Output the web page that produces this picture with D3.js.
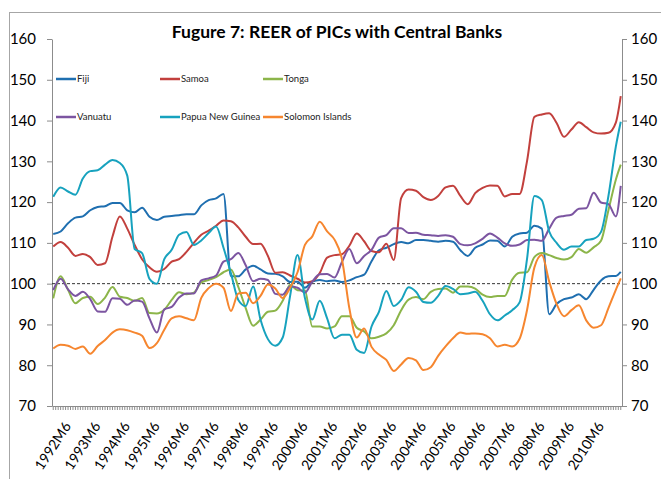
<!DOCTYPE html>
<html>
<head>
<meta charset="utf-8">
<script src="https://cdn.jsdelivr.net/npm/d3@7"></script>
<style>
  body { margin: 0; background: #fff; }
  svg { font-family: Lato, "Open Sans", sans-serif; }
</style>
</head>
<body>
<svg class="chart" width="661" height="479"></svg>
<script>

// Monthly categories, 1992M1 to 2011M3.
var months = [];
for (var yr = 1992; yr <= 2011; yr++) {
  for (var mo = 1; mo <= 12; mo++) {
    months.push(yr + "M" + mo);
  }
}
months = months.slice(0, 231);

var sampleMonths = months.filter(function(d, i) { return i % 3 == 0; });
sampleMonths.push(months[months.length - 1]);

var tickLabels = ["1992M6", "1993M6", "1994M6", "1995M6", "1996M6", "1997M6",
                  "1998M6", "1999M6", "2000M6", "2001M6", "2002M6", "2003M6",
                  "2004M6", "2005M6", "2006M6", "2007M6", "2008M6", "2009M6", "2010M6"];

var yTicks = [70, 80, 90, 100, 110, 120, 130, 140, 150, 160];

var fiji = [112.2,112.8,114.8,116.2,116.5,118,118.8,119,119.8,119.8,118,117.5,118.6,116.4,115.6,116.4,116.6,116.8,117,117,
            119.2,120.5,120.9,122,101.8,101.8,103.5,104.4,103.5,102.5,102.4,101.8,100.4,100.5,99,100.5,100.9,100.6,100.8,100.4,
            100.8,101.6,102.2,105.5,108.2,108.8,109.7,110.2,109.9,110.7,110.7,110.5,110.3,110.5,110.3,108.2,106.8,108.8,109.6,110.6,
            110.5,109.1,111.5,112.3,112.5,114.2,113.5,92.5,95,96.2,96.6,97.4,96.2,98.5,100.8,101.8,101.9,102.9];

var samoa = [109.1,110.2,108.8,106.8,107.3,106.5,104.6,105,111.5,116.5,113.5,109.5,106,104,102.9,103.6,105.4,106,107.8,110,
             112,113,114.2,115.5,115.3,113.8,111.5,109.7,109.8,106.8,102.7,102.8,102,101.2,100.3,100.6,102.6,106.4,107,107.2,
             109.3,112.3,110.4,108,107.7,109.8,105.8,121,123.1,122.8,121.2,120.5,121.5,123.6,124,121.5,119.5,122.2,123.5,124.1,
             124,121.4,122,122,130,140.9,141.5,141.8,139.4,136,137.8,139.6,138.4,137.1,136.8,137,139.5,146];

var tonga = [96.4,101.8,98.5,95.2,96.5,96.8,95,96.6,99.2,96.8,96.5,95.8,96.5,92.8,92.7,93.6,96,97.9,97.4,97.8,
             100.3,100.9,101.6,102.8,103.5,99.2,94,89.7,91.2,93.1,93.4,95.8,99.7,98.4,98.3,89.5,89.5,89,89.5,92,
             92,89.2,88.3,86.6,87,87.8,89.8,93.5,96.1,96.7,96.2,98,98.7,98.8,97.8,99.3,99.3,98.8,97.3,96.7,
             97,97,101,102.7,102.8,106.5,107.5,107,106.3,105.9,106.5,108.5,107.6,108.9,110.5,118,125.5,129.2];

var vanuatu = [98.4,101.2,98.6,97,98,96.2,93.2,93.1,96.4,96.3,94.8,95.9,95.6,91.5,88,93.7,94.3,96.6,97.6,97.6,
               100.8,101.3,102,105.4,106,107.5,104.5,100.6,101.2,100.9,97.5,97.3,99.3,99,97.8,100.5,102.3,102.4,101.5,105.3,
               108.5,105,106.8,108.3,111.3,111.9,113.6,113.6,112.4,112.5,112,111.9,111.7,111.9,111.5,109.7,109.4,109.9,111,112.3,
               111.3,109.9,109.3,109.6,110.7,110.8,110.5,113.5,116.2,116.6,116.9,118.4,118.5,122.3,119.9,119.5,116.5,124];

var png = [121.3,123.6,122.6,121.8,125.8,127.6,127.8,129.2,130.3,129.6,126.5,108.5,107.5,101.2,100,106,108.3,112,112.7,109.5,
           110.6,112.4,114,108.8,102.6,96,94.5,99.3,91.2,86.4,84.8,86.8,97,107,96.5,91.2,95.8,91.5,86.6,87.5,
           87.5,83.8,83,89.5,93.1,98.2,94.5,96,99.1,98,95.5,95.3,97,99.4,98.7,97.4,97.6,98,95.8,92.5,
           91,92.2,93.5,95.4,106,121.5,120.5,112.8,110,108.3,109.1,109.1,110.7,111,112.7,121.5,133.6,139.7];

var solomon = [84.1,85,84.8,84,84.6,82.8,84.7,86.2,88,88.8,88.6,88,87.2,84.2,85.4,88.7,91.5,92,91.5,91,
               96.5,98.9,100,99,93.3,97.6,97.8,95.2,97,99.8,98.8,96.5,99,102.8,109.5,111.6,115.2,112.8,110.8,106,
               94,86.8,89,84.5,82.6,81.3,78.6,80.2,81.8,81.2,78.8,79.5,82.3,84.6,86.6,88,87.7,87.8,87.6,86.6,
               84.6,85,84.6,86.5,93.5,104,107,100.5,95,92,93.5,94.7,91,89.2,89.8,94,98.5,101.3];

var seriesNames = ["Fiji", "Samoa", "Tonga", "Vanuatu", "Papua New Guinea", "Solomon Islands"];
var seriesValues = [fiji, samoa, tonga, vanuatu, png, solomon];
var seriesColors = ["#1f6fb0", "#c2403d", "#8cb54a", "#7c55a1", "#17a2be", "#f6862f"];

var plot = {left: 52, right: 622, top: 39, bottom: 406};

var svg = d3.select(".chart");

// Chart area border.
svg.append("rect")
    .attr("x", 9.5)
    .attr("y", 12.5)
    .attr("width", 660)
    .attr("height", 470)
    .attr("fill", "none")
    .attr("stroke", "#a6a6a6");

var x = d3.scaleBand()
    .domain(months)
    .range([plot.left, plot.right]);

var y = d3.scaleLinear()
    .domain([70, 160])
    .range([plot.bottom, plot.top]);

drawTitle();
drawAxes();
drawLines();
drawLegend();

/*
* Title on top.
*/
function drawTitle() {
  svg.append("text")
      .attr("x", 337)
      .attr("y", 38)
      .attr("text-anchor", "middle")
      .style("font-size", "17.5px")
      .style("font-weight", "bold")
      .text("Fugure 7: REER of PICs with Central Banks");
}

/*
* Left and right value axes, month axis with labels.
*/
function drawAxes() {

  svg.append("g")
      .attr("class", "y axis")
      .attr("transform", "translate(" + plot.left + ",0)")
      .call(d3.axisLeft(y).tickValues(yTicks).tickSize(5).tickSizeOuter(0).tickPadding(11));

  svg.append("g")
      .attr("class", "y axis")
      .attr("transform", "translate(" + plot.right + ",0)")
      .call(d3.axisRight(y).tickValues(yTicks).tickSize(5).tickSizeOuter(0).tickPadding(4));

  // Small monthly tick marks.
  svg.append("g")
      .attr("class", "x axis")
      .attr("transform", "translate(0," + plot.bottom + ")")
      .call(d3.axisBottom(x).tickValues(months).tickFormat("").tickSize(4).tickSizeOuter(0));

  var labels = svg.append("g")
      .attr("class", "x labels")
      .attr("transform", "translate(0," + plot.bottom + ")")
      .call(d3.axisBottom(x).tickValues(tickLabels).tickSize(0));
  labels.select(".domain").remove();
  labels.selectAll("text")
      .style("text-anchor", "end")
      .style("font-size", "14px")
      .attr("x", 0)
      .attr("y", 0)
      .attr("dy", 0)
      .attr("transform", "translate(6,20) rotate(-57)");

  svg.selectAll(".y.axis text")
      .style("font-size", "15px");
  svg.selectAll(".axis text, .labels text")
      .attr("fill", "#000")
      .style("font-family", "Lato, 'Open Sans', sans-serif");
  svg.selectAll(".axis path, .axis line")
      .attr("stroke", "#8c8c8c");

  // Dashed reference line at 100.
  svg.append("line")
      .attr("x1", plot.left)
      .attr("x2", plot.right)
      .attr("y1", y(100))
      .attr("y2", y(100))
      .attr("stroke", "#333")
      .attr("stroke-width", 1)
      .attr("stroke-dasharray", "3,2");
}

/*
* One line per country.
*/
function drawLines() {

  var line = d3.line()
      .x(function(d, i) { return x(sampleMonths[i]) + x.bandwidth() / 2; })
      .y(function(d) { return y(d); })
      .curve(d3.curveMonotoneX);

  svg.append("g")
      .selectAll("path")
      .data(seriesValues)
      .enter()
    .append("path")
      .attr("d", line)
      .attr("fill", "none")
      .attr("stroke", function(d, i) { return seriesColors[i]; })
      .attr("stroke-width", 2)
      .attr("stroke-linejoin", "round");
}

/*
* Legend in two rows of three inside the plot.
*/
function drawLegend() {

  var colX = [56, 160, 263],
      rowY = [79, 117];

  var item = svg.append("g")
      .selectAll("g")
      .data(seriesNames)
      .enter()
    .append("g")
      .attr("transform", function(d, i) {
        return "translate(" + colX[i % 3] + "," + rowY[Math.floor(i / 3)] + ")";
      });

  item.append("line")
      .attr("x1", 0)
      .attr("x2", 20)
      .attr("stroke", function(d, i) { return seriesColors[i]; })
      .attr("stroke-width", 2.5);

  item.append("text")
      .attr("x", 21)
      .attr("dy", "0.35em")
      .style("font-size", "9.5px")
      .attr("fill", "#222")
      .text(function(d) { return d; });
}
</script>
</body>
</html>
